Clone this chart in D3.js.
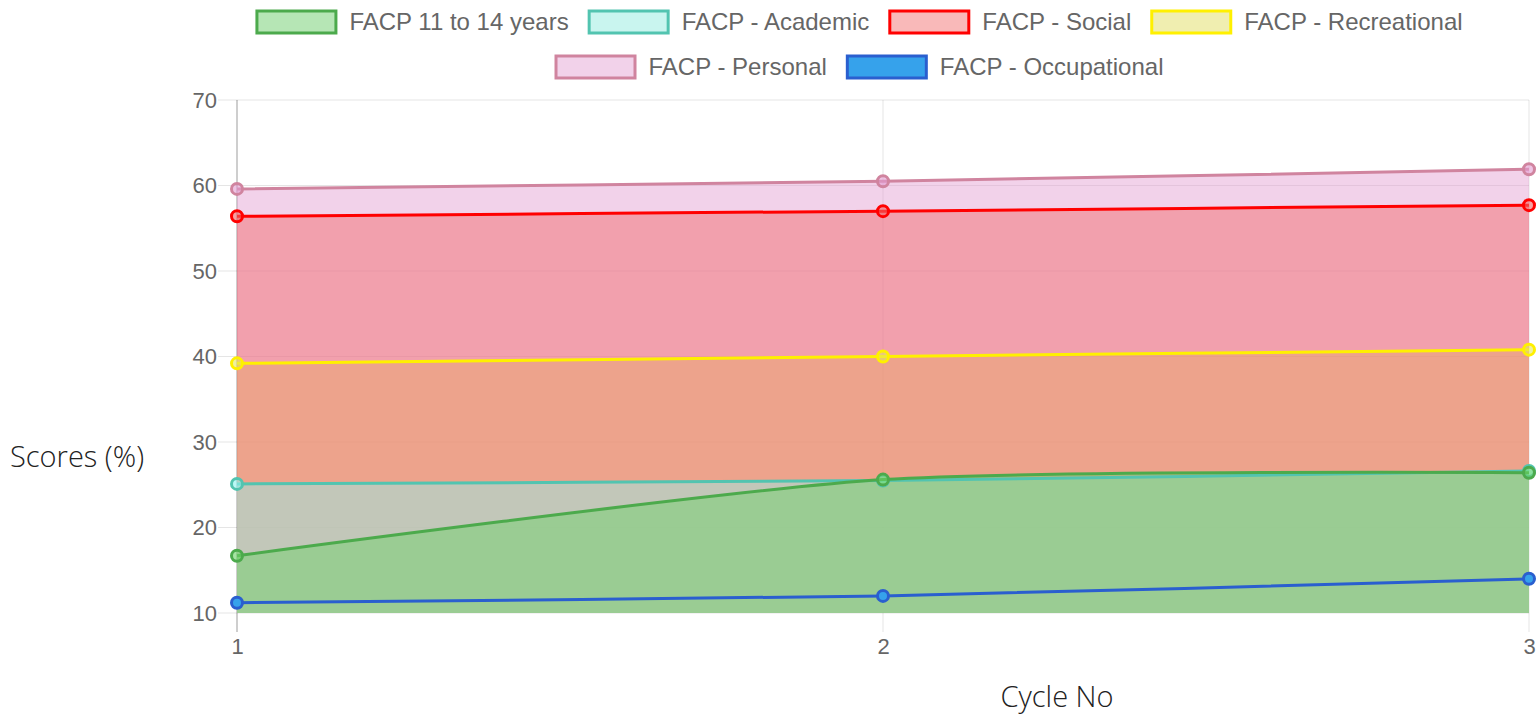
<!DOCTYPE html>
<html>
<head>
<meta charset="utf-8">
<script src="https://cdn.jsdelivr.net/npm/d3@7"></script>
<style>
  body { margin: 0; background: #fff; }
  svg { display: block; }
</style>
</head>
<body>
<div id="chart"></div>
<script>
var cycles = [1, 2, 3];
var yTicks = [10, 20, 30, 40, 50, 60, 70];

var seriesNames = ['FACP 11 to 14 years', 'FACP - Academic', 'FACP - Social',
  'FACP - Recreational', 'FACP - Personal', 'FACP - Occupational'];
var ages11to14 = [16.7, 25.6, 26.4];
var academic = [25.1, 25.5, 26.6];
var social = [56.4, 57.0, 57.7];
var recreational = [39.2, 40.0, 40.8];
var personal = [59.6, 60.5, 61.9];
var occupational = [11.2, 12.0, 14.0];

var seriesValues = [ages11to14, academic, social, recreational, personal, occupational];
var strokes = ['#4caa4c', '#52c4b0', '#ff0000', '#fff000', '#d0849f', '#2a5fcf'];
var fills = ['rgba(107,210,102,0.45)', 'rgba(141,244,240,0.45)', 'rgba(242,99,99,0.45)',
  'rgba(220,230,60,0.35)', 'rgba(226,155,208,0.45)', null];
var legendFills = ['#b6e6b5', '#c9f5ef', '#f9b9b9', '#f0eeb0', '#f2d2ea', '#36a2eb'];
var pointFills = ['rgba(107,210,102,0.6)', 'rgba(141,244,240,0.6)', 'rgba(242,99,99,0.6)',
  'rgba(230,230,90,0.6)', 'rgba(226,155,208,0.6)', '#36a2eb'];

var W = 1540, H = 719;
var svg = d3.select('#chart').append('svg').attr('width', W).attr('height', H);

var x = d3.scaleLinear().domain([1, 3]).range([237, 1529]);
var y = d3.scaleLinear().domain([10, 70]).range([613, 100]);

// grid
svg.append('g')
  .selectAll('line.h')
  .data(yTicks)
  .enter()
  .append('line')
  .attr('x1', 218).attr('x2', 1529)
  .attr('y1', function (d) { return y(d); })
  .attr('y2', function (d) { return y(d); })
  .attr('stroke', 'rgba(0,0,0,0.1)')
  .attr('stroke-width', 1);

svg.append('g')
  .selectAll('line.v')
  .data(cycles)
  .enter()
  .append('line')
  .attr('x1', function (d) { return x(d); })
  .attr('x2', function (d) { return x(d); })
  .attr('y1', 100).attr('y2', 632)
  .attr('stroke', 'rgba(0,0,0,0.1)')
  .attr('stroke-width', 1);

// left axis line
svg.append('line')
  .attr('x1', 237).attr('x2', 237).attr('y1', 100).attr('y2', 632)
  .attr('stroke', 'rgba(0,0,0,0.3)');

var curve = d3.curveCardinal.tension(0.3);
var area = d3.area()
  .x(function (d, i) { return x(cycles[i]); })
  .y0(y(10))
  .y1(function (d) { return y(d); })
  .curve(curve);
var line = d3.line()
  .x(function (d, i) { return x(cycles[i]); })
  .y(function (d) { return y(d); })
  .curve(curve);

// datasets drawn last to first: all fills, then lines and points
var order = d3.range(seriesValues.length).reverse();
var fillLayer = svg.append('g');
var lineLayer = svg.append('g');
order.forEach(function (k) {
  if (fills[k]) {
    fillLayer.append('path').datum(seriesValues[k])
      .attr('d', area)
      .attr('fill', fills[k]);
  }
});
order.forEach(function (k) {
  var g = lineLayer.append('g');
  g.append('path').datum(seriesValues[k])
    .attr('d', line)
    .attr('fill', 'none')
    .attr('stroke', strokes[k])
    .attr('stroke-width', 3);
  g.selectAll('circle')
    .data(seriesValues[k])
    .enter()
    .append('circle')
    .attr('cx', function (d, i) { return x(cycles[i]); })
    .attr('cy', function (d) { return y(d); })
    .attr('r', 5.5)
    .attr('fill', pointFills[k])
    .attr('stroke', strokes[k])
    .attr('stroke-width', 3);
});

// axes
var yAxis = d3.axisLeft(y).tickValues(yTicks).tickSize(0).tickPadding(20);
svg.append('g').attr('transform', 'translate(237,0)').call(yAxis)
  .call(function (g) { g.select('.domain').remove(); })
  .selectAll('text')
  .attr('font-family', 'Liberation Sans, Arial, sans-serif')
  .attr('font-size', '22px')
  .attr('fill', '#666');

var xAxis = d3.axisBottom(x).tickValues(cycles).tickFormat(d3.format('d')).tickSize(0).tickPadding(25);
svg.append('g').attr('transform', 'translate(0,613)').call(xAxis)
  .call(function (g) { g.select('.domain').remove(); })
  .selectAll('text')
  .attr('font-family', 'Liberation Sans, Arial, sans-serif')
  .attr('font-size', '22px')
  .attr('fill', '#666');

// axis titles
svg.append('text')
  .text('Scores (%)')
  .attr('x', 10).attr('y', 467)
  .attr('font-family', 'Open Sans, sans-serif')
  .attr('font-weight', 300)
  .attr('font-size', '29px')
  .attr('fill', '#222');

svg.append('text')
  .text('Cycle No')
  .attr('x', 1057).attr('y', 707)
  .attr('text-anchor', 'middle')
  .attr('font-family', 'Open Sans, sans-serif')
  .attr('font-weight', 300)
  .attr('font-size', '29px')
  .attr('fill', '#222');

// legend
var rows = [[0, 1, 2, 3], [4, 5]];
var rowY = [22, 67];
var boxW = 82, boxH = 25, gap = 12, itemGap = 19;
var legend = svg.append('g');
rows.forEach(function (row, r) {
  var items = row.map(function (k) {
    var it = legend.append('g');
    it.append('rect')
      .attr('width', boxW - 3).attr('height', boxH - 3)
      .attr('x', 1.5).attr('y', -boxH / 2 + 1.5)
      .attr('fill', legendFills[k])
      .attr('stroke', strokes[k])
      .attr('stroke-width', 3);
    var t = it.append('text')
      .text(seriesNames[k])
      .attr('x', boxW + gap)
      .attr('dy', '0.35em')
      .attr('font-family', 'Liberation Sans, Arial, sans-serif')
      .attr('font-size', '24px')
      .attr('fill', '#666');
    return { g: it, w: boxW + gap + t.node().getComputedTextLength() };
  });
  var total = d3.sum(items, function (d) { return d.w; }) + itemGap * (items.length - 1);
  var cx = 859 - total / 2;
  items.forEach(function (d) {
    d.g.attr('transform', 'translate(' + cx + ',' + rowY[r] + ')');
    cx += d.w + itemGap;
  });
});
</script>
</body>
</html>
